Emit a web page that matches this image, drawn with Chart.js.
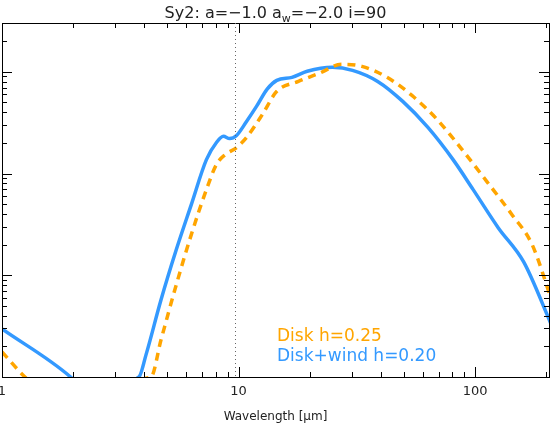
<!DOCTYPE html>
<html><head><meta charset="utf-8">
<script src="https://cdn.jsdelivr.net/npm/chart.js@4"></script>
<style>body{margin:0;background:#fff}#w{width:556px;height:434px}</style>
</head><body><div id="w"><canvas id="c"></canvas></div>
<script>
const windX=[1,1.95,2.2,3.79,4.06,4.70,5.45,6.31,7.31,8.06,8.63,9.16,9.8,10.8,11.9,13.2,14.5,16.8,19.5,24.9,30.3,38.7,49.4,63.1,80.6,98,125,160,210];
const windY=[2.97,1,0.75,1,1.65,5.74,17.8,49.5,137,202,232,221,237,325,457,676,824,883,1012,1107,1035,805,512,284,137,69.5,29.4,13.6,3.25];
const diskX=[1,1.25,1.4,4.26,4.70,5.45,6.31,7.31,8.06,8.8,9.8,10.8,12.6,14.5,17.9,21.9,27.3,33.2,42.4,54,69,88,112,143,174,210];
const diskY=[1.76,1,0.8,1,2.32,8.05,25.1,69.5,123,154,180,226,381,643,805,966,1186,1132,883,586,340,172,83.4,39.4,20,5.74];
const xTickLabels=[1,10,100];
const vline=9.7;
const toPts=(xs,ys)=>xs.map((x,i)=>({x,y:ys[i]}));
const blue='#3399ff', orange='#ffa500';
const deco={id:'deco',afterDraw(ch){
 const c=ch.ctx,a=ch.chartArea,xs=ch.scales.x,ys=ch.scales.y;
 c.save();
 c.strokeStyle='#000';c.lineWidth=1;
 c.strokeRect(a.left+0.5,a.top+0.5,a.right-a.left,a.bottom-a.top);
 c.beginPath();
 const xt=[];for(const dec of [1,10,100])for(let m=1;m<10;m++){const v=m*dec;if(v<=200)xt.push(v);}
 xt.forEach(v=>{const p=Math.round(xs.getPixelForValue(v))+0.5;const L=[1,10,100].includes(v)?10:5;
  c.moveTo(p,a.bottom);c.lineTo(p,a.bottom-L);c.moveTo(p,a.top);c.lineTo(p,a.top+L);});
 const yt=[];for(const dec of [1,10,100,1000])for(let m=1;m<10;m++){const v=m*dec;if(v<=ys.max)yt.push(v);}
 yt.forEach(v=>{const p=Math.round(ys.getPixelForValue(v))+0.5;const L=[1,10,100,1000].includes(v)?10:5;
  c.moveTo(a.left,p);c.lineTo(a.left+L,p);c.moveTo(a.right,p);c.lineTo(a.right-L,p);});
 c.stroke();
 c.beginPath();c.setLineDash([1,3]);c.strokeStyle='#666';
 const vx=Math.round(xs.getPixelForValue(vline))+0.5;c.moveTo(vx,a.top);c.lineTo(vx,a.bottom);c.stroke();c.setLineDash([]);
 c.font='17px "DejaVu Sans"';c.textBaseline='alphabetic';
 c.fillStyle=orange;c.fillText('Disk h=0.25',277,341);
 c.fillStyle=blue;c.fillText('Disk+wind h=0.20',277,361);
 c.fillStyle='#222';c.font='16px "DejaVu Sans"';
 const t1='Sy2: a=\u22121.0 a',t2='w',t3='=\u22122.0 i=90';
 const w1=c.measureText(t1).width;c.font='11px "DejaVu Sans"';const w2=c.measureText(t2).width;c.font='16px "DejaVu Sans"';const w3=c.measureText(t3).width;
 let x0=(a.left+a.right)/2-(w1+w2+w3)/2;const yb=18;
 c.fillText(t1,x0,yb);c.font='11px "DejaVu Sans"';c.fillText(t2,x0+w1,yb+4);c.font='16px "DejaVu Sans"';c.fillText(t3,x0+w1+w2,yb);
 c.restore();}};
new Chart(document.getElementById('c'),{type:'line',
 data:{datasets:[
  {data:toPts(diskX,diskY),borderColor:orange,borderWidth:3.5,borderDash:[8,6],pointRadius:0,cubicInterpolationMode:'monotone',fill:false},
  {data:toPts(windX,windY),borderColor:blue,borderWidth:3.5,pointRadius:0,cubicInterpolationMode:'monotone',fill:false}]},
 options:{responsive:true,maintainAspectRatio:false,animation:false,devicePixelRatio:1,
  layout:{padding:{left:2,right:7,top:23,bottom:0}},
  plugins:{legend:{display:false},tooltip:{enabled:false}},
  scales:{
   x:{type:'logarithmic',min:1,max:205,
    afterBuildTicks(s){s.ticks=xTickLabels.map(v=>({value:v}));},
    afterFit(s){s.height=57;s.paddingLeft=0;s.paddingRight=0;},
    grid:{display:false,drawTicks:false},border:{display:false},
    ticks:{color:'#222',font:{size:13,family:'DejaVu Sans'},padding:7,maxRotation:0,autoSkip:false,callback:v=>String(v)},
    title:{display:true,text:'Wavelength [\u03bcm]',color:'#222',font:{size:12,family:'DejaVu Sans'},padding:{top:0,bottom:10}}},
   y:{type:'logarithmic',min:1,max:3020,display:false}
  }}, plugins:[deco]});
</script></body></html>
